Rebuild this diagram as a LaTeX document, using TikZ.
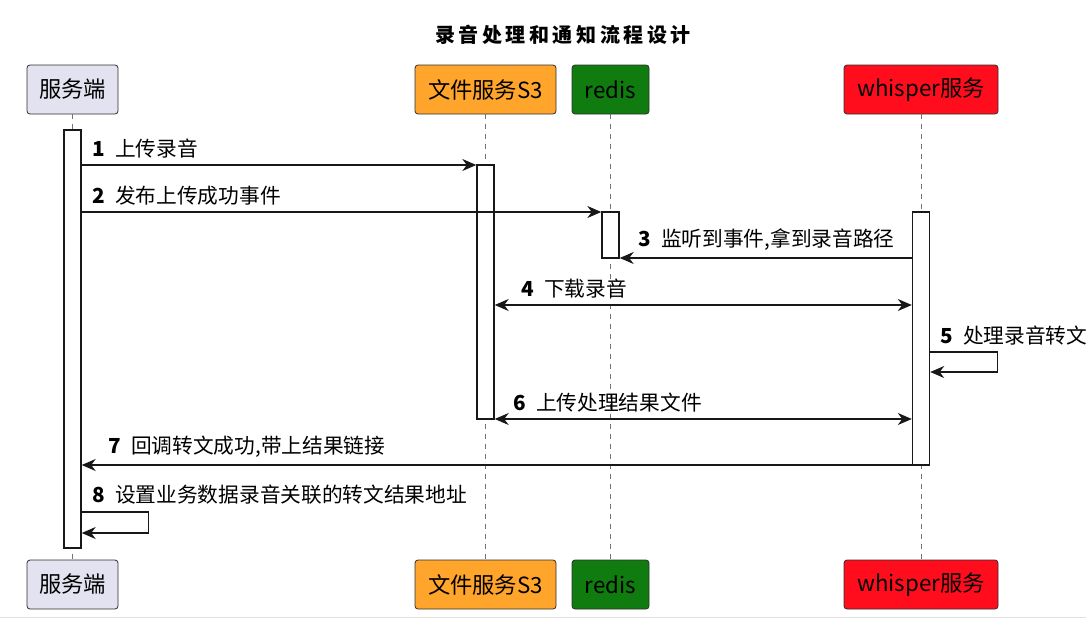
\documentclass[tikz,border=0pt]{standalone}
\usepackage{fontspec}
\setmainfont{Noto Sans CJK SC}
\newfontfamily\titlefont{Noto Sans CJK SC}[LetterSpace=18]
\usetikzlibrary{arrows.meta}
\definecolor{partblue}{HTML}{E2E2F0}
\definecolor{s3orange}{HTML}{FFA52B}
\definecolor{redisgreen}{HTML}{107C10}
\definecolor{whred}{HTML}{FF0D1D}
\definecolor{linegray}{HTML}{181818}
\begin{document}
\begin{tikzpicture}[x=1pt,y=-1pt,
  font=\fontsize{20.7}{24}\selectfont,
  part/.style={draw=linegray!90,rounded corners=3pt,line width=0.8pt,
    minimum height=49pt,inner sep=0pt,font=\fontsize{22.3}{26}\selectfont},
  life/.style={draw=black!55,dash pattern=on 5pt off 5pt,line width=0.9pt},
  act/.style={draw=linegray,fill=white,line width=1.4pt,minimum width=17pt,inner sep=0pt},
  tip/.tip={Stealth[length=14pt,width=12pt,inset=4.5pt]},
  msg/.style={draw=linegray,line width=1.3pt,-tip},
  both/.style={msg,tip-tip},
  lbl/.style={anchor=south west,inner sep=0pt}]
\useasboundingbox (0,0) rectangle (1086,634);
\node[font=\titlefont\fontsize{20}{24}\selectfont\bfseries] (title) at (563,35) {录音处理和通知流程设计};
% participants
\node[part,fill=partblue,minimum width=91pt] (srvT) at (72.5,89.5) {服务端};
\node[part,fill=s3orange,minimum width=141pt] (s3T) at (485.5,89.5) {文件服务S3};
\node[part,fill=redisgreen,minimum width=77pt] (redisT) at (610.5,89.5) {redis};
\node[part,fill=whred,minimum width=154pt] (whT) at (921,89.5) {whisper服务};
\node[part,fill=partblue,minimum width=91pt] (srvB) at (72.5,584.5) {服务端};
\node[part,fill=s3orange,minimum width=141pt] (s3B) at (485.5,584.5) {文件服务S3};
\node[part,fill=redisgreen,minimum width=77pt] (redisB) at (610.5,584.5) {redis};
\node[part,fill=whred,minimum width=154pt] (whB) at (921,584.5) {whisper服务};
\foreach \p in {srv,s3,redis,wh}
  \draw[life] (\p T.south) -- (\p B.north);
% activations
\node[act,minimum height=418pt] (srvA) at (72.5,339) {};
\node[act,minimum height=254pt] (s3A) at (485.5,292) {};
\node[act,minimum height=46pt] (redisA) at (610.5,235) {};
\node[act,minimum height=253pt] (whA) at (921,338.5) {};
% message levels
\coordinate (m1) at (0,165);
\coordinate (m2) at (0,212);
\coordinate (m3) at (0,258);
\coordinate (m4) at (0,305);
\coordinate (m5) at (0,352);
\coordinate (m5r) at (0,372);
\coordinate (m6) at (0,419);
\coordinate (m7) at (0,465);
\coordinate (m8) at (0,512);
\coordinate (m8r) at (0,533);
\draw[msg] (srvA.east |- m1) -- (s3A.west |- m1);
\node[lbl] (l1) at (92,158) {\textbf{1}\hspace{.5em}上传录音};
\draw[msg] (srvA.east |- m2) -- (redisA.west |- m2);
\node[lbl] (l2) at (92,205) {\textbf{2}\hspace{.5em}发布上传成功事件};
\draw[msg] (whA.west |- m3) -- (redisA.east |- m3);
\node[lbl] (l3) at (638,251) {\textbf{3}\hspace{.5em}监听到事件,拿到录音路径};
\draw[both] (s3A.east |- m4) -- (whA.west |- m4);
\node[lbl] (l4) at (521,298) {\textbf{4}\hspace{.5em}下载录音};
\draw[msg] (whA.east |- m5) -- ++(67,0) |- (whA.east |- m5r);
\node[lbl] (l5) at (940,345) {\textbf{5}\hspace{.5em}处理录音转文};
\draw[both] (s3A.east |- m6) -- (whA.west |- m6);
\node[lbl] (l6) at (513,412) {\textbf{6}\hspace{.5em}上传处理结果文件};
\draw[msg] (whA.west |- m7) -- (srvA.east |- m7);
\node[lbl] (l7) at (108,458) {\textbf{7}\hspace{.5em}回调转文成功,带上结果链接};
\draw[msg] (srvA.east |- m8) -- ++(67,0) |- (srvA.east |- m8r);
\node[lbl] (l8) at (92,505) {\textbf{8}\hspace{.5em}设置业务数据录音关联的转文结果地址};
\draw[black!12,line width=1pt] (0,617) -- (1086,617);
\end{tikzpicture}
\end{document}
